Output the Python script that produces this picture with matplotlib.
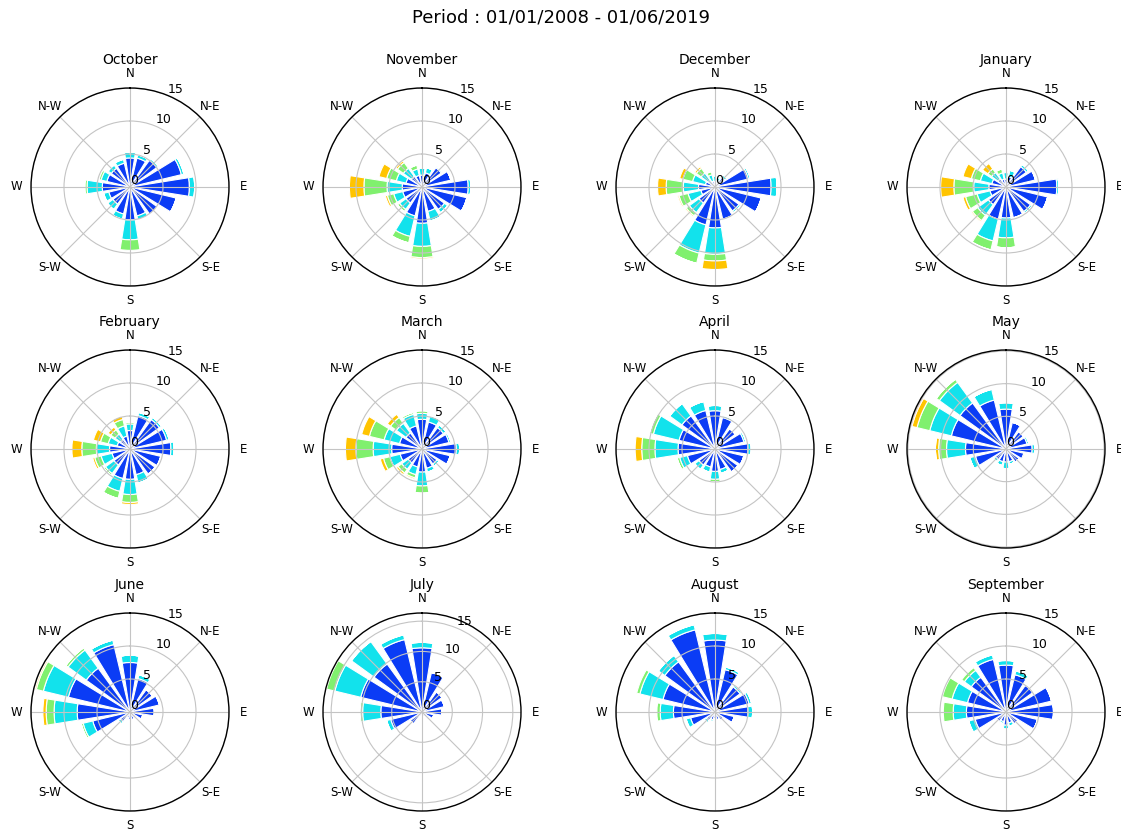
import numpy as np
import matplotlib as mpl
mpl.use('Agg')
from matplotlib import pyplot as plt

# direction order: N, NNE, NE, ENE, E, ESE, SE, SSE, S, SSW, SW, WSW, W, WNW, NW, NNW
# each month: rows are speed classes (blue, cyan, green, yellow, orange), values in %
months = ['October', 'November', 'December', 'January',
          'February', 'March', 'April', 'May',
          'June', 'July', 'August', 'September']

october = [
    [4.4, 4.5, 5.0, 8.0, 9.0, 7.2, 5.1, 4.5, 5.0, 4.2, 3.2, 3.3, 4.2, 3.6, 3.5, 3.7],
    [0.9, 0.5, 0.3, 0.4, 0.8, 0, 0, 0.6, 3.0, 0.8, 1.0, 0.8, 2.3, 0.9, 0.6, 0.6],
    [0, 0, 0, 0, 0, 0, 0, 0, 1.6, 0, 0, 0, 0.3, 0.3, 0, 0],
    [0] * 16,
    [0] * 16,
]
november = [
    [1.8, 2.2, 3.6, 4.5, 7.0, 7.0, 4.2, 3.8, 5.5, 4.5, 3.0, 3.0, 3.0, 2.5, 2.0, 1.8],
    [1.1, 0.8, 0.2, 0, 0.4, 0, 0.6, 1.5, 3.5, 3.2, 1.2, 1.4, 2.3, 1.5, 1.5, 1.0],
    [0, 0, 0, 0, 0, 0, 0, 0, 1.7, 1.0, 0.4, 1.0, 3.5, 1.5, 1.1, 0.6],
    [0, 0, 0, 0, 0, 0, 0, 0, 0.2, 0, 0, 0.3, 2.2, 1.2, 0.3, 0],
    [0] * 16,
]
december = [
    [0.8, 0.7, 1.8, 5.2, 8.5, 7.2, 4.5, 5.0, 6.2, 5.9, 3.0, 2.2, 2.5, 1.5, 1.2, 0.9],
    [0.9, 0.8, 0.4, 0.3, 0.9, 0, 0.3, 0.2, 4.0, 4.4, 1.8, 2.0, 2.3, 2.0, 1.4, 1.0],
    [0, 0, 0, 0, 0, 0, 0, 0, 1.0, 1.6, 0.6, 1.4, 2.6, 1.5, 0.9, 0.5],
    [0, 0, 0, 0, 0, 0, 0, 0, 1.3, 0, 0.2, 0.2, 1.3, 0.5, 0.3, 0],
    [0] * 16,
]
january = [
    [1.2, 1.6, 3.8, 4.6, 7.7, 6.5, 4.6, 4.8, 4.7, 5.0, 3.3, 2.5, 2.6, 2.2, 1.5, 1.2],
    [1.0, 1.0, 0.4, 0, 0.3, 0, 0.3, 0, 3.0, 3.4, 2.0, 2.0, 2.3, 1.8, 1.2, 1.0],
    [0, 0, 0, 0, 0, 0, 0, 0, 1.5, 1.4, 1.0, 1.8, 3.0, 1.4, 0.7, 0.6],
    [0, 0, 0, 0, 0, 0, 0, 0, 0, 0, 0.2, 0.4, 2.0, 1.3, 1.0, 0],
    [0] * 16,
]
february = [
    [2.8, 5.2, 5.5, 5.7, 6.2, 4.8, 4.7, 4.0, 4.6, 4.6, 3.0, 2.8, 3.1, 2.0, 1.8, 2.0],
    [1.0, 0.5, 0.4, 0.4, 0.5, 0, 0, 1.3, 2.3, 2.0, 1.6, 1.7, 2.0, 1.4, 1.0, 1.6],
    [0.3, 0, 0, 0, 0, 0, 0, 0, 1.2, 1.1, 0.3, 1.0, 2.2, 1.2, 0.8, 1.0],
    [0, 0, 0, 0, 0, 0, 0, 0, 0.3, 0, 0, 0.3, 1.5, 1.1, 0.5, 0.5],
    [0] * 16,
]
march = [
    [4.5, 4.2, 4.0, 4.2, 5.2, 4.4, 2.8, 3.0, 3.5, 2.8, 2.6, 3.4, 4.6, 3.5, 3.0, 3.6],
    [0.9, 1.0, 0.5, 0.3, 0.5, 0, 0.4, 0.6, 2.1, 1.2, 1.2, 1.6, 2.8, 2.4, 1.8, 1.8],
    [0.4, 0, 0, 0, 0, 0, 0, 0, 1.1, 0.5, 0.7, 1.0, 2.6, 2.3, 1.1, 0.3],
    [0, 0, 0, 0, 0, 0, 0, 0, 0, 0.2, 0.3, 0.5, 1.6, 1.2, 0.6, 0],
    [0] * 16,
]
april = [
    [5.8, 4.9, 3.8, 4.5, 5.0, 4.5, 4.3, 3.2, 3.4, 2.8, 3.0, 4.3, 5.6, 5.6, 6.2, 6.0],
    [0.8, 0.3, 0, 0.3, 0.5, 0, 0, 0.6, 1.2, 0.8, 0.8, 1.2, 3.5, 4.0, 2.3, 1.4],
    [0, 0, 0, 0, 0, 0, 0, 0, 0.4, 0, 0, 0.4, 2.0, 0.6, 0, 0],
    [0, 0, 0, 0, 0, 0, 0, 0, 0, 0, 0, 0, 1.0, 0, 0, 0],
    [0] * 16,
]
may = [
    [6.1, 4.2, 3.3, 3.3, 4.0, 2.8, 2.5, 2.0, 2.0, 2.0, 2.0, 4.8, 6.2, 8.6, 8.7, 7.7],
    [1.0, 0, 0, 0.3, 0.4, 0.2, 0, 0.4, 1.0, 0.6, 0.4, 0.9, 2.9, 3.4, 3.9, 1.7],
    [0, 0, 0, 0, 0, 0, 0, 0, 0, 0, 0, 0, 1.2, 2.0, 0.6, 0],
    [0, 0, 0, 0, 0, 0, 0, 0, 0, 0, 0, 0, 0.5, 0.8, 0, 0],
    [0, 0, 0, 0, 0, 0, 0, 0, 0, 0, 0, 0, 0, 0.2, 0, 0],
]
june = [
    [7.5, 5.2, 4.2, 4.6, 3.7, 2.0, 1.2, 1.2, 1.2, 1.0, 1.8, 5.8, 8.0, 9.6, 8.2, 10.5],
    [1.1, 0.6, 0, 0, 0, 0, 0, 0, 0, 0, 0.4, 1.5, 3.5, 3.9, 3.4, 0.7],
    [0, 0, 0, 0, 0, 0, 0, 0, 0, 0, 0, 0.3, 1.2, 1.1, 0.4, 0],
    [0, 0, 0, 0, 0, 0, 0, 0, 0, 0, 0, 0, 0.5, 0.2, 0, 0],
    [0] * 16,
]
july = [
    [10.6, 6.7, 4.1, 3.8, 3.3, 2.0, 1.0, 0.8, 0.6, 0.8, 2.4, 5.3, 6.8, 10.4, 9.8, 12.3],
    [0.9, 0, 0, 0, 0, 0, 0, 0, 0, 0, 0, 0.7, 3.0, 4.4, 4.6, 0.8],
    [0, 0, 0, 0, 0, 0, 0, 0, 0, 0, 0, 0, 0.4, 1.4, 0, 0],
    [0] * 16,
    [0] * 16,
]
august = [
    [10.9, 6.6, 4.7, 5.3, 5.0, 3.0, 1.6, 1.2, 1.0, 1.2, 1.6, 3.8, 6.3, 8.1, 9.4, 12.8],
    [1.0, 0.4, 0.3, 0.4, 0.7, 0, 0, 0, 0, 0.3, 0.4, 0.7, 2.0, 3.6, 1.2, 0.8],
    [0, 0, 0, 0, 0, 0, 0, 0, 0, 0, 0, 0, 0.5, 0.5, 0, 0],
    [0] * 16,
    [0] * 16,
]
september = [
    [7.1, 5.8, 5.0, 7.1, 7.2, 4.9, 2.2, 1.7, 2.0, 1.5, 1.8, 4.8, 6.0, 6.0, 6.5, 8.2],
    [0.7, 0.6, 0, 0, 0, 0, 0, 0.5, 0.6, 0.3, 0, 1.0, 2.0, 2.4, 1.3, 0.7],
    [0, 0, 0, 0, 0, 0, 0, 0, 0, 0, 0, 0, 1.5, 1.5, 0.5, 0],
    [0] * 16,
    [0] * 16,
]

tables = [october, november, december, january,
          february, march, april, may,
          june, july, august, september]

compass = ['N', 'N-E', 'E', 'S-E', 'S', 'S-W', 'W', 'N-W']
colors = ['#0b3cf5', '#12e2ec', '#80f06e', '#ffc400', '#ff6a00']

# panel centres in pixels
col_x = [130, 422, 715, 1006]
row_y = [187, 449, 712]
W, H = 1121., 830.
rad = 99.

fig = plt.figure(figsize=(11.21, 8.30), dpi=100)
fig.suptitle('Period : 01/01/2008 - 01/06/2019', y=0.99, fontsize=13)

theta = np.radians(np.arange(16) * 22.5)
width = 2 * np.pi / 16 * 0.8

for k, (name, tab) in enumerate(zip(months, tables)):
    cx = col_x[k % 4] / W
    cy = 1 - row_y[k // 4] / H
    w, h = 2 * rad / W, 2 * rad / H
    ax = fig.add_axes([cx - w / 2, cy - h / 2, w, h], projection='polar')
    ax.set_theta_zero_location('N')
    ax.set_theta_direction(-1)

    data = np.array(tab, dtype=float)
    bottom = np.zeros(16)
    for i in range(data.shape[0]):
        seg = data[i]
        if seg.sum() > 0:
            ax.bar(theta, seg, width=width, bottom=bottom, color=colors[i],
                   edgecolor='white', linewidth=0.8, zorder=1)
        bottom = bottom + seg

    ax.set_ylim(0, max(15, bottom.max() + 0.15))
    ax.set_yticks([0, 5, 10, 15])
    ax.set_yticklabels(['0', '5', '10', '15'], fontsize=9)
    ax.set_rlabel_position(22.5)
    ax.set_thetagrids(np.arange(0, 360, 45), labels=compass, fontsize=8.5)
    ax.tick_params(axis='x', pad=0)
    ax.grid(color='#c4c4c4', linewidth=0.8, zorder=2)
    ax.set_axisbelow(False)
    ax.spines['polar'].set_color('black')
    ax.spines['polar'].set_linewidth(1.0)
    ax.spines['polar'].set_zorder(5)
    ax.set_title(name, fontsize=10, pad=1)

plt.savefig('out.png', dpi=100)
